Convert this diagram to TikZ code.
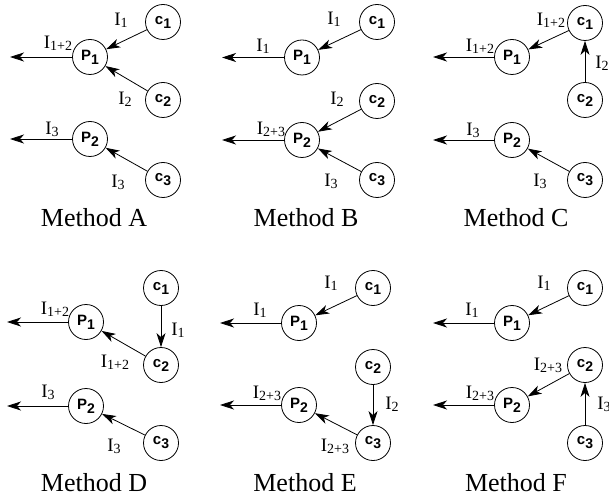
\documentclass[tikz,border=0pt]{standalone}
\usepackage{fontspec}
\setmainfont{Liberation Serif}
\setsansfont{Liberation Sans}
\usetikzlibrary{arrows.meta}
\newcommand\mynd[2]{#1\raisebox{-4pt}{\fontsize{14}{14}\selectfont #2}}
\newcommand\mycur[1]{I\raisebox{-2pt}{\fontsize{14}{14}\selectfont #1}}
\newcommand\myNodeFont{\fontsize{15}{15}\selectfont\sffamily\bfseries}
\newcommand\myLabFont{\fontsize{19}{19}\selectfont}
\newcommand\myTitleFont{\fontsize{26}{26}\selectfont}
\tikzset{
  proc/.style={circle, draw, line width=0.8pt, minimum size=35pt, inner sep=0pt, font=\myNodeFont},
  flow/.style={-{Stealth[length=14pt,width=9pt,inset=4pt]}, line width=0.8pt},
  lab/.style={font=\myLabFont, inner sep=1pt},
  title/.style={font=\myTitleFont, anchor=base, inner sep=0pt}
}
\begin{document}
\begin{tikzpicture}[x=1pt,y=-1pt]
\useasboundingbox (0,0) rectangle (609,502);
% ---------- Method A
\node[proc] (a-c1) at (163,22) {\mynd{c}{1}};
\node[proc] (a-p1) at (90,57) {\mynd{P}{1}};
\node[proc] (a-c2) at (163,100) {\mynd{c}{2}};
\node[proc] (a-p2) at (90,139) {\mynd{P}{2}};
\node[proc] (a-c3) at (163,180) {\mynd{c}{3}};
\coordinate (a-o1) at (10,57);
\coordinate (a-o2) at (10,139);
\draw[flow] (a-c1) -- (a-p1) node[lab] (a-l1) at (121,20) {\mycur{1}};
\draw[flow] (a-c2) -- (a-p1) node[lab] (a-l2) at (125,99) {\mycur{2}};
\draw[flow] (a-p1) -- (a-o1) node[lab] (a-l3) at (58,43) {\mycur{1+2}};
\draw[flow] (a-p2) -- (a-o2) node[lab] (a-l4) at (52,129) {\mycur{3}};
\draw[flow] (a-c3) -- (a-p2) node[lab] (a-l5) at (118,182) {\mycur{3}};
\node[title] (a-t) at (94,227) {Method A};
% ---------- Method B
\node[proc] (b-c1) at (377,22) {\mynd{c}{1}};
\node[proc] (b-p1) at (302,57.5) {\mynd{P}{1}};
\node[proc] (b-c2) at (377,101) {\mynd{c}{2}};
\node[proc] (b-p2) at (302,140) {\mynd{P}{2}};
\node[proc] (b-c3) at (377,180) {\mynd{c}{3}};
\coordinate (b-o1) at (222,57.5);
\coordinate (b-o2) at (222,140);
\draw[flow] (b-c1) -- (b-p1) node[lab] (b-l1) at (334,19) {\mycur{1}};
\draw[flow] (b-p1) -- (b-o1) node[lab] (b-l2) at (263,46) {\mycur{1}};
\draw[flow] (b-c2) -- (b-p2) node[lab] (b-l3) at (337,99) {\mycur{2}};
\draw[flow] (b-p2) -- (b-o2) node[lab] (b-l4) at (271,129) {\mycur{2+3}};
\draw[flow] (b-c3) -- (b-p2) node[lab] (b-l5) at (331,181) {\mycur{3}};
\node[title] (b-t) at (306,227) {Method B};
% ---------- Method C
\node[proc] (c-c1) at (585,23) {\mynd{c}{1}};
\node[proc] (c-p1) at (512,57) {\mynd{P}{1}};
\node[proc] (c-c2) at (585,100) {\mynd{c}{2}};
\node[proc] (c-p2) at (512,140) {\mynd{P}{2}};
\node[proc] (c-c3) at (585,180) {\mynd{c}{3}};
\coordinate (c-o1) at (433,57);
\coordinate (c-o2) at (433,140);
\draw[flow] (c-c1) -- (c-p1) node[lab] (c-l1) at (551,20) {\mycur{1+2}};
\draw[flow] (c-c2) -- (c-c1) node[lab, anchor=west] (c-l2) at (594,63) {\mycur{2}};
\draw[flow] (c-p1) -- (c-o1) node[lab] (c-l3) at (480,46) {\mycur{1+2}};
\draw[flow] (c-p2) -- (c-o2) node[lab] (c-l4) at (473,130) {\mycur{3}};
\draw[flow] (c-c3) -- (c-p2) node[lab] (c-l5) at (540,181) {\mycur{3}};
\node[title] (c-t) at (516,227) {Method C};
% ---------- Method D
\node[proc] (d-c1) at (161,288) {\mynd{c}{1}};
\node[proc] (d-p1) at (86,322) {\mynd{P}{1}};
\node[proc] (d-c2) at (161,365) {\mynd{c}{2}};
\node[proc] (d-p2) at (86,406) {\mynd{P}{2}};
\node[proc] (d-c3) at (161,443) {\mynd{c}{3}};
\coordinate (d-o1) at (7,322);
\coordinate (d-o2) at (7,406);
\draw[flow] (d-c1) -- (d-c2) node[lab] (d-l1) at (178,330) {\mycur{1}};
\draw[flow] (d-c2) -- (d-p1) node[lab] (d-l2) at (115,362) {\mycur{1+2}};
\draw[flow] (d-p1) -- (d-o1) node[lab] (d-l3) at (55,309) {\mycur{1+2}};
\draw[flow] (d-p2) -- (d-o2) node[lab] (d-l4) at (48,392) {\mycur{3}};
\draw[flow] (d-c3) -- (d-p2) node[lab] (d-l5) at (114,446) {\mycur{3}};
\node[title] (d-t) at (94,491) {Method D};
% ---------- Method E
\node[proc] (e-c1) at (373,288) {\mynd{c}{1}};
\node[proc] (e-p1) at (299,323) {\mynd{P}{1}};
\node[proc] (e-c2) at (373,367) {\mynd{c}{2}};
\node[proc] (e-p2) at (299,405) {\mynd{P}{2}};
\node[proc] (e-c3) at (373,443) {\mynd{c}{3}};
\coordinate (e-o1) at (220,323);
\coordinate (e-o2) at (220,405);
\draw[flow] (e-c1) -- (e-p1) node[lab] (e-l1) at (331,283) {\mycur{1}};
\draw[flow] (e-p1) -- (e-o1) node[lab] (e-l2) at (260,310) {\mycur{1}};
\draw[flow] (e-c2) -- (e-c3) node[lab] (e-l3) at (392,404) {\mycur{2}};
\draw[flow] (e-c3) -- (e-p2) node[lab] (e-l4) at (335,446) {\mycur{2+3}};
\draw[flow] (e-p2) -- (e-o2) node[lab] (e-l5) at (267,393) {\mycur{2+3}};
\node[title] (e-t) at (305,491) {Method E};
% ---------- Method F
\node[proc] (f-c1) at (585,288) {\mynd{c}{1}};
\node[proc] (f-p1) at (512,323) {\mynd{P}{1}};
\node[proc] (f-c2) at (585,365) {\mynd{c}{2}};
\node[proc] (f-p2) at (512,405) {\mynd{P}{2}};
\node[proc] (f-c3) at (585,443) {\mynd{c}{3}};
\coordinate (f-o1) at (433,323);
\coordinate (f-o2) at (433,405);
\draw[flow] (f-c1) -- (f-p1) node[lab] (f-l1) at (544,283) {\mycur{1}};
\draw[flow] (f-p1) -- (f-o1) node[lab] (f-l2) at (472,310) {\mycur{1}};
\draw[flow] (f-c2) -- (f-p2) node[lab] (f-l3) at (548,365) {\mycur{2+3}};
\draw[flow] (f-c3) -- (f-c2) node[lab, anchor=west] (f-l4) at (596,404) {\mycur{3}};
\draw[flow] (f-p2) -- (f-o2) node[lab] (f-l5) at (480,393) {\mycur{2+3}};
\node[title] (f-t) at (516,491) {Method F};
\end{tikzpicture}
\end{document}
